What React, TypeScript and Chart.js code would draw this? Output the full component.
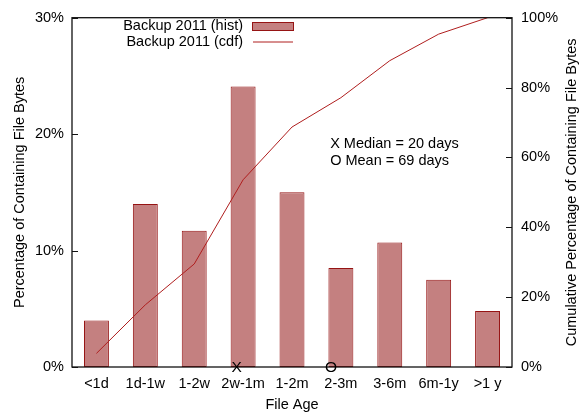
import React, { useEffect, useRef } from 'react';
import { Chart, registerables } from 'chart.js';

Chart.register(...registerables);

const categories = ['<1d', '1d-1w', '1-2w', '2w-1m', '1-2m', '2-3m', '3-6m', '6m-1y', '>1 y'];
const histValues = [4.0, 14.0, 11.7, 24.1, 15.0, 8.5, 10.7, 7.5, 4.8];
const cdfValues = [3.9, 17.8, 29.5, 53.6, 68.7, 77.1, 87.7, 95.3, 100];
const leftTicks = [0, 10, 20, 30];
const rightTicks = [0, 20, 40, 60, 80, 100];
const markerLabels = ['X', 'O'];
const markerPositions = [2.87, 4.8];
const annotationLines = ['X Median = 20 days', 'O Mean = 69 days'];
const histLabel = 'Backup 2011 (hist)';
const cdfLabel = 'Backup 2011 (cdf)';
const rightTitle = 'Cumulative Percentage of Containing File Bytes';

const FONT = '"Liberation Sans", Arial, sans-serif';
const FS = 14.5;
const BAR_FILL = 'rgb(196,128,128)';
const BAR_EDGE = 'rgb(150,20,20)';
const LINE_COLOR = 'rgb(175,30,30)';

export default function App() {
  const ref = useRef<HTMLCanvasElement>(null);

  useEffect(() => {
    const canvas = ref.current;
    if (!canvas) return;

    const overlay = {
      id: 'overlay',
      afterDatasetsDraw(chart: any) {
        const ctx = chart.ctx as CanvasRenderingContext2D;
        const { left, right, top, bottom } = chart.chartArea;
        const x = chart.scales.x;
        const y = chart.scales.y;
        const y1 = chart.scales.y1;
        ctx.save();
        // frame
        ctx.strokeStyle = '#111';
        ctx.lineWidth = 1.3;
        ctx.strokeRect(left, top, right - left, bottom - top);
        // inward ticks
        ctx.lineWidth = 1;
        ctx.beginPath();
        leftTicks.forEach((v) => {
          const py = Math.round(y.getPixelForValue(v)) + 0.5;
          ctx.moveTo(left, py);
          ctx.lineTo(left + 6, py);
        });
        rightTicks.forEach((v) => {
          const py = Math.round(y1.getPixelForValue(v)) + 0.5;
          ctx.moveTo(right, py);
          ctx.lineTo(right - 6, py);
        });
        ctx.stroke();

        ctx.fillStyle = '#000';
        // markers X / O
        ctx.font = `${FS + 1}px ${FONT}`;
        ctx.textAlign = 'center';
        ctx.textBaseline = 'middle';
        markerLabels.forEach((t, i) => {
          ctx.fillText(t, x.getPixelForValue(markerPositions[i]), y.getPixelForValue(0) + 1);
        });

        // annotation
        ctx.font = `${FS}px ${FONT}`;
        ctx.textAlign = 'left';
        const ax = x.getPixelForValue(4.78);
        annotationLines.forEach((t, i) => {
          ctx.fillText(t, ax, y1.getPixelForValue(63.8) + i * 16.5);
        });

        // right axis title (reads bottom to top)
        ctx.save();
        ctx.translate(572, (top + bottom) / 2);
        ctx.rotate(-Math.PI / 2);
        ctx.textAlign = 'center';
        ctx.fillText(rightTitle, 0, 0);
        ctx.restore();

        // legend
        const ds = chart.data.datasets;
        ctx.textAlign = 'right';
        ctx.fillText(ds[0].label, 243, 26);
        ctx.fillText(ds[1].label, 243, 42);
        ctx.fillStyle = ds[0].backgroundColor;
        ctx.fillRect(252, 22.5, 42, 8);
        ctx.strokeStyle = ds[0].borderColor;
        ctx.lineWidth = 1;
        ctx.strokeRect(252.5, 22.5, 41, 8);
        ctx.strokeStyle = ds[1].borderColor;
        ctx.beginPath();
        ctx.moveTo(253, 42);
        ctx.lineTo(293, 42);
        ctx.stroke();
        ctx.restore();
      },
    };

    const chart = new Chart(canvas, {
      type: 'bar',
      data: {
        labels: categories,
        datasets: [
          {
            type: 'bar',
            label: histLabel,
            data: histValues,
            backgroundColor: BAR_FILL,
            borderColor: BAR_EDGE,
            borderWidth: 1,
            borderSkipped: false,
            barPercentage: 0.51,
            categoryPercentage: 1.0,
            yAxisID: 'y',
            order: 2,
          } as any,
          {
            type: 'line',
            label: cdfLabel,
            data: cdfValues,
            borderColor: LINE_COLOR,
            backgroundColor: LINE_COLOR,
            borderWidth: 1,
            pointRadius: 0,
            tension: 0,
            fill: false,
            yAxisID: 'y1',
            order: 1,
          } as any,
        ],
      },
      options: {
        animation: false,
        responsive: false,
        devicePixelRatio: 1,
        color: '#000',
        layout: { padding: { top: 14, left: 0, right: 0, bottom: 0 } },
        plugins: {
          legend: { display: false },
          tooltip: { enabled: false },
        },
        scales: {
          x: {
            grid: { display: false, drawTicks: false },
            border: { display: false },
            ticks: {
              color: '#000',
              font: { family: FONT, size: FS },
              padding: 8,
              autoSkip: false,
              maxRotation: 0,
            },
            title: {
              display: true,
              text: 'File Age',
              color: '#000',
              font: { family: FONT, size: FS },
              padding: { top: 0, bottom: 3 },
            },
            afterFit: (s: any) => {
              s.height = 50;
            },
          },
          y: {
            position: 'left',
            min: 0,
            max: 30,
            grid: { display: false, drawTicks: false },
            border: { display: false },
            ticks: {
              stepSize: 10,
              color: '#000',
              font: { family: FONT, size: FS },
              padding: 8,
              callback: (v: any) => v + '%',
            },
            afterBuildTicks: (s: any) => {
              s.ticks = leftTicks.map((v) => ({ value: v }));
            },
            title: {
              display: true,
              text: 'Percentage of Containing File Bytes',
              color: '#000',
              font: { family: FONT, size: FS },
              padding: { top: 11, bottom: 0 },
            },
            afterFit: (s: any) => {
              s.width = 72;
            },
          },
          y1: {
            position: 'right',
            min: 0,
            max: 100,
            grid: { display: false, drawTicks: false },
            border: { display: false },
            ticks: {
              stepSize: 20,
              color: '#000',
              font: { family: FONT, size: FS },
              padding: 9,
              callback: (v: any) => v + '%',
            },
            afterBuildTicks: (s: any) => {
              s.ticks = rightTicks.map((v) => ({ value: v }));
            },
            title: { display: false },
            afterFit: (s: any) => {
              s.width = 71;
            },
          },
        },
      } as any,
      plugins: [overlay],
    });

    return () => chart.destroy();
  }, []);

  return (
    <div style={{ position: 'fixed', left: 0, top: 0, width: 583, height: 417, background: '#fff' }}>
      <canvas ref={ref} width={583} height={417} style={{ display: 'block', width: 583, height: 417 }} />
    </div>
  );
}
